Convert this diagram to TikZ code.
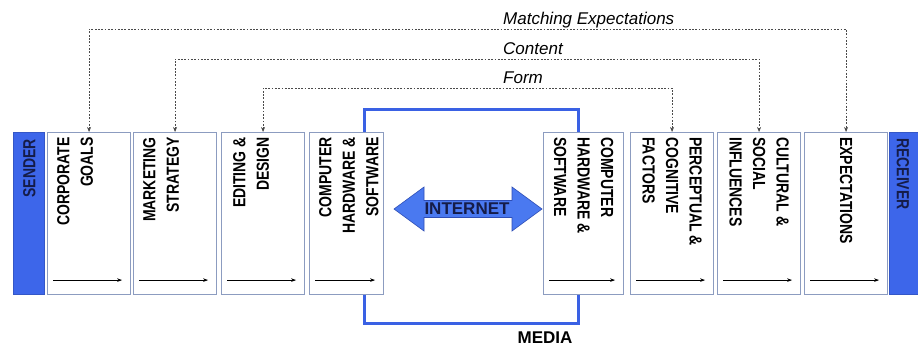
\documentclass[tikz,border=0pt]{standalone}
\usepackage{fontspec}
\setmainfont{Liberation Sans}
\newfontfamily\narrowfont[FakeStretch=0.8]{Liberation Sans}
\usepackage{tikz}
\usetikzlibrary{arrows.meta,calc}
\usepackage{xcolor}
\definecolor{mediablue}{HTML}{3A61E4}
\definecolor{barblue}{HTML}{3D66EA}
\definecolor{netblue}{HTML}{4A79F0}
\definecolor{labelnavy}{HTML}{151C48}
\definecolor{boxedge}{HTML}{8C9CC0}
\definecolor{linkgray}{HTML}{4A4A4A}

\begin{document}
\begin{tikzpicture}[
  x=1pt, y=-1pt,
  >=Stealth,
  stagebox/.style={
    draw=boxedge,
    fill=white,
    line width=1.1pt,
    minimum height=162pt,
    inner sep=0pt,
    anchor=north west
  },
  endbar/.style={
    draw=barblue!85!black,
    fill=barblue,
    line width=0.6pt,
    minimum width=31pt,
    minimum height=162pt,
    inner sep=0pt,
    anchor=north west
  },
  lefttext/.style={
    rotate=90,
    anchor=north east,
    align=right,
    inner sep=0pt,
    font=\narrowfont\bfseries\fontsize{17.5}{23.5}\selectfont
  },
  righttext/.style={
    rotate=-90,
    anchor=west,
    align=left,
    inner sep=0pt,
    font=\narrowfont\bfseries\fontsize{17.5}{23.5}\selectfont
  },
  toplabel/.style={
    anchor=base west,
    inner sep=0pt,
    font=\itshape\fontsize{17}{20}\selectfont
  },
  flowarrow/.style={
    ->,
    line width=0.8pt,
    >={Stealth[length=5pt,width=3.5pt]}
  },
  linkline/.style={
    <->,
    draw=linkgray,
    line width=0.7pt,
    dash pattern=on 1.8pt off 1.5pt,
    >={Stealth[length=5pt,width=4pt]}
  }
]

  \path[use as bounding box, fill=white] (0,0) rectangle (918,345);

  % -------------------------------------------------------------
  % MEDIA FRAME (behind the computer boxes)
  % -------------------------------------------------------------
  \node[draw=mediablue, line width=3pt, minimum width=214pt, minimum height=214pt, inner sep=0pt, anchor=north west] (media) at (363,108) {};
  \node[font=\bfseries\fontsize{17}{20}\selectfont, anchor=base, inner sep=0pt] (medialbl) at (545,343) {MEDIA};

  % -------------------------------------------------------------
  % SENDER SIDE
  % -------------------------------------------------------------
  \node[endbar] (sender) at (13,132) {};
  \node[stagebox, minimum width=83pt] (goals) at (47,132) {};
  \node[stagebox, minimum width=83pt] (market) at (133,132) {};
  \node[stagebox, minimum width=83pt] (design) at (221,132) {};
  \node[stagebox, minimum width=74pt] (hwleft) at (309,132) {};

  \node[lefttext, anchor=east, text=labelnavy] (senderT) at ($(sender.north)+(0.5,7)$) {SENDER};
  \node[lefttext] (goalsT) at ($(goals.north west)+(10,5)$) {CORPORATE\\GOALS};
  \node[lefttext] (marketT) at ($(market.north west)+(10,5)$) {MARKETING\\STRATEGY};
  \node[lefttext] (designT) at ($(design.north west)+(12,5)$) {EDITING \&\\DESIGN};
  \node[lefttext] (hwleftT) at ($(hwleft.north west)+(10,5)$) {COMPUTER\\HARDWARE \&\\SOFTWARE};

  % -------------------------------------------------------------
  % RECEIVER SIDE
  % -------------------------------------------------------------
  \node[stagebox, minimum width=80pt] (hwright) at (543,132) {};
  \node[stagebox, minimum width=83pt] (percept) at (630,132) {};
  \node[stagebox, minimum width=83pt] (culture) at (717,132) {};
  \node[stagebox, minimum width=83pt] (expect) at (804,132) {};
  \node[endbar, minimum width=34pt] (receiver) at (889,132) {};

  \node[righttext] (hwrightT) at ($(hwright.north)+(0,5)$) {COMPUTER\\HARDWARE \&\\SOFTWARE};
  \node[righttext] (perceptT) at ($(percept.north)+(0,5)$) {PERCEPTUAL \&\\COGNITIVE\\FACTORS};
  \node[righttext] (cultureT) at ($(culture.north)+(0,5)$) {CULTURAL \&\\SOCIAL\\INFLUENCES};
  \node[righttext] (expectT) at ($(expect.north)+(0,5)$) {EXPECTATIONS};
  \node[righttext, text=labelnavy] (receiverT) at ($(receiver.north)+(-3.5,6)$) {RECEIVER};

  % Flow arrows at the foot of each box
  \foreach \b in {goals,market,design,hwleft,hwright,percept,culture,expect}
    \draw[flowarrow] ($(\b.south west)+(6,-15)$) -- ($(\b.south east)+(-9,-15)$);

  % -------------------------------------------------------------
  % INTERNET LINK
  % -------------------------------------------------------------
  \draw[draw=mediablue!80!black, fill=netblue, line width=0.6pt]
    (394,209) -- (424,187) -- (424,200.5) -- (512,200.5) -- (512,187) -- (542,209)
    -- (512,231) -- (512,217.5) -- (424,217.5) -- (424,231) -- cycle;
  \node[font=\bfseries\fontsize{17}{20}\selectfont, text=labelnavy, inner sep=0pt] (internet) at (467,209) {INTERNET};

  % -------------------------------------------------------------
  % MATCHING LINKS ACROSS THE TOP
  % -------------------------------------------------------------
  \node[toplabel] (matchlbl) at (503,25) {Matching Expectations};
  \node[toplabel] (contentlbl) at (503,55) {Content};
  \node[toplabel] (formlbl) at (503,83) {Form};

  \coordinate (matchrow) at (0,29);
  \coordinate (contentrow) at (0,59);
  \coordinate (formrow) at (0,88);

  \draw[linkline] (goals.north) -- (goals.north |- matchrow) -| (expect.north);
  \draw[linkline] (market.north) -- (market.north |- contentrow) -| (culture.north);
  \draw[linkline] (design.north) -- (design.north |- formrow) -| (percept.north);

\end{tikzpicture}
\end{document}
